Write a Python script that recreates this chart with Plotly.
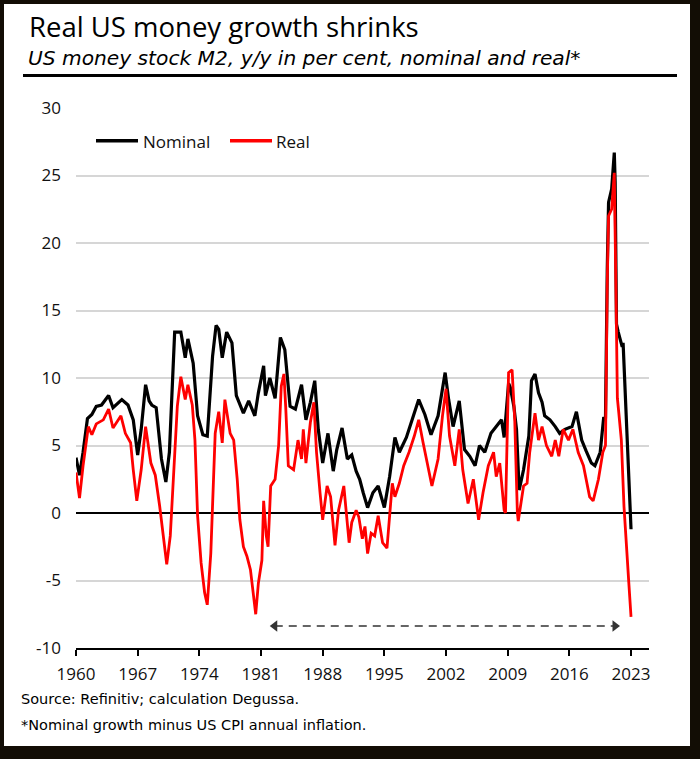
import plotly.graph_objects as go

# ---------------- data ----------------
nominal_years = [
    1960.0, 1960.4, 1960.8, 1961.3, 1961.8, 1962.3, 1962.9, 1963.7, 1964.2, 1964.7,
    1965.2, 1965.9, 1966.5, 1967.0, 1967.4, 1967.9, 1968.3, 1968.6, 1969.1, 1969.7,
    1970.2, 1970.6, 1971.0, 1971.2, 1971.9, 1972.4, 1972.7, 1973.3, 1973.8, 1974.4,
    1974.9, 1975.5, 1975.9, 1976.2, 1976.6, 1977.1, 1977.7, 1978.2, 1979.0, 1979.6,
    1980.3, 1980.7, 1981.3, 1981.5, 1982.0, 1982.6, 1983.2, 1983.7, 1984.3, 1984.9,
    1985.6, 1986.1, 1986.6, 1987.1, 1987.5, 1988.0, 1988.6, 1989.2, 1989.6, 1990.2,
    1990.8, 1991.3, 1991.8, 1992.2, 1992.6, 1993.1, 1993.7, 1994.3, 1995.0, 1995.6,
    1996.2, 1996.7, 1997.5, 1998.3, 1998.9, 1999.6, 2000.3, 2001.1, 2001.9, 2002.3,
    2002.8, 2003.5, 2004.1, 2004.7, 2005.3, 2005.8, 2006.4, 2007.1, 2007.7, 2008.3,
    2008.6, 2008.9, 2009.1, 2009.3, 2009.7, 2010.0, 2010.3, 2010.8, 2011.4, 2011.7,
    2012.1, 2012.5, 2012.9, 2013.2, 2013.8, 2014.4, 2014.9, 2015.5, 2016.3, 2016.8,
    2017.4, 2017.9, 2018.5, 2018.9, 2019.5, 2019.9, 2020.1, 2020.3, 2020.45, 2020.8,
    2021.1, 2021.2, 2021.35, 2021.55, 2022.0, 2022.1, 2022.3, 2022.5, 2022.75, 2023.0,
]
nominal_values = [
    4.1, 2.8, 4.5, 7.0, 7.3, 7.9, 8.0, 8.7, 7.8, 8.1,
    8.4, 8.0, 6.9, 4.3, 6.2, 9.5, 8.3, 8.0, 7.8, 4.0,
    2.3, 4.5, 10.5, 13.4, 13.4, 11.5, 12.9, 11.1, 7.2, 5.8,
    5.7, 11.6, 13.9, 13.6, 11.5, 13.4, 12.6, 8.7, 7.4, 8.3,
    7.2, 8.9, 10.9, 8.7, 10.0, 8.5, 13.0, 12.1, 7.9, 7.7,
    9.5, 6.9, 8.2, 9.8, 6.2, 3.7, 5.9, 3.1, 4.7, 6.3,
    4.0, 4.3, 3.1, 2.5, 1.5, 0.4, 1.5, 2.0, 0.4, 2.7,
    5.6, 4.5, 5.6, 7.2, 8.4, 7.3, 5.8, 7.2, 10.4, 8.4,
    6.4, 8.3, 4.7, 4.2, 3.5, 5.0, 4.5, 5.9, 6.4, 6.9,
    5.6, 8.5, 9.6, 9.3, 7.9, 6.2, 1.7, 3.2, 5.7, 9.8,
    10.3, 8.9, 8.2, 7.2, 6.9, 6.4, 5.9, 6.2, 6.4, 7.5,
    5.4, 4.6, 3.7, 3.5, 4.5, 7.1, 7.0, 18.0, 23.0, 24.0,
    26.7, 24.5, 14.0, 13.4, 12.3, 12.6, 9.5, 6.9, 2.8, -1.2,
]

real_years = [
    1960.0, 1960.4, 1960.8, 1961.4, 1961.8, 1962.3, 1963.1, 1963.7, 1964.2, 1965.1,
    1965.6, 1966.2, 1966.5, 1966.9, 1967.4, 1967.9, 1968.5, 1969.0, 1969.5, 1969.9,
    1970.3, 1970.7, 1971.1, 1971.5, 1971.9, 1972.4, 1972.7, 1973.2, 1973.5, 1973.8,
    1974.2, 1974.6, 1974.9, 1975.3, 1975.8, 1976.2, 1976.6, 1976.9, 1977.5, 1977.9,
    1978.3, 1978.6, 1979.0, 1979.4, 1979.8, 1980.2, 1980.4, 1980.7, 1981.1, 1981.3,
    1981.6, 1981.8, 1982.1, 1982.6, 1983.0, 1983.3, 1983.6, 1983.8, 1984.1, 1984.7,
    1985.2, 1985.6, 1985.8, 1986.1, 1986.6, 1987.0, 1987.3, 1987.7, 1988.0, 1988.5,
    1988.9, 1989.4, 1989.8, 1990.4, 1991.0, 1991.3, 1991.8, 1992.1, 1992.5, 1992.8,
    1993.1, 1993.5, 1993.9, 1994.3, 1994.8, 1995.3, 1995.6, 1995.9, 1996.2, 1996.7,
    1997.2, 1997.8, 1998.4, 1998.9, 1999.4, 1999.9, 2000.4, 2001.1, 2001.6, 2002.0,
    2002.4, 2003.0, 2003.5, 2003.9, 2004.5, 2005.1, 2005.7, 2006.2, 2006.8, 2007.4,
    2007.7, 2008.1, 2008.6, 2008.75, 2009.1, 2009.5, 2009.8, 2010.1, 2010.2, 2010.8,
    2011.2, 2011.5, 2012.1, 2012.5, 2012.9, 2013.4, 2014.0, 2014.4, 2014.8, 2015.3,
    2015.9, 2016.4, 2017.0, 2017.6, 2018.3, 2018.7, 2019.3, 2019.8, 2020.1, 2020.3,
    2020.45, 2020.8, 2021.1, 2021.3, 2021.45, 2021.6, 2021.9, 2022.2, 2022.5, 2022.75,
    2023.0,
]
real_values = [
    3.0, 1.1, 3.5, 6.4, 5.8, 6.6, 6.9, 7.7, 6.3, 7.2,
    5.9, 5.2, 3.2, 0.9, 3.2, 6.4, 3.7, 2.8, 0.5, -1.7,
    -3.8, -1.7, 3.2, 7.9, 10.1, 8.4, 9.5, 8.0, 5.4, -0.2,
    -3.7, -5.9, -6.8, -3.0, 5.9, 7.5, 5.2, 8.4, 5.9, 5.4,
    2.5, -0.5, -2.5, -3.2, -4.2, -6.2, -7.5, -5.2, -3.5, 0.9,
    -1.7, -2.5, 2.0, 2.5, 5.0, 9.4, 10.3, 7.9, 3.5, 3.2,
    5.4, 4.0, 6.2, 3.7, 6.7, 8.2, 4.5, 1.5, -0.5, 2.0,
    1.2, -2.4, 0.2, 2.0, -2.2, -0.7, 0.2, -0.3, -1.9, -1.0,
    -3.0, -1.5, -1.7, -0.2, -2.2, -2.6, 0.0, 2.2, 1.2, 2.2,
    3.5, 4.5, 5.7, 6.9, 5.2, 3.7, 2.0, 4.0, 7.2, 9.2,
    5.7, 3.5, 6.2, 3.2, 0.7, 2.5, -0.5, 1.5, 3.5, 4.5,
    2.7, 3.7, 0.2, 0.0, 10.4, 10.6, 6.9, 0.0, -0.6, 2.0,
    2.2, 4.5, 7.4, 5.4, 6.4, 5.0, 4.2, 5.4, 4.2, 6.2,
    5.4, 6.2, 4.5, 3.5, 1.2, 0.9, 2.5, 4.5, 5.0, 17.0,
    22.0, 22.5, 25.2, 16.0, 8.5, 7.5, 5.4, 0.5, -3.0, -5.2,
    -7.7,
]

x_ticks = [1960, 1967, 1974, 1981, 1988, 1995, 2002, 2009, 2016, 2023]
y_ticks = [-10, -5, 0, 5, 10, 15, 20, 25, 30]
arrow_years = [1982.56, 2021.18]
arrow_level = -8.37

title_text = "Real US money growth shrinks"
subtitle_text = "US money stock M2, y/y in per cent, nominal and real*"
source_text = "Source: Refinitiv; calculation Degussa."
note_text = "*Nominal growth minus US CPI annual inflation."

# ---------------- layout helpers ----------------
W, H = 700, 759
ML, MR, MT, MB = 76, 51, 108, 111
PW, PH = W - ML - MR, H - MT - MB
FONT = "Open Sans"
WIDE = "DejaVu Sans"


def pxx(x):
    return (x - ML) / PW


def pxy(y):
    return (H - MB - y) / PH


fig = go.Figure()
fig.add_trace(go.Scatter(x=nominal_years, y=nominal_values, mode="lines",
                         line=dict(color="#000000", width=3.2), name="Nominal"))
fig.add_trace(go.Scatter(x=real_years, y=real_values, mode="lines",
                         line=dict(color="#ff0000", width=2.8), name="Real"))
fig.add_trace(go.Scatter(x=arrow_years, y=[arrow_level] * 2, mode="lines+markers",
                         line=dict(color="#333333", width=1.6, dash="8px,6px"),
                         marker=dict(symbol=["triangle-left", "triangle-right"], size=10,
                                     color="#333333"),
                         name="period"))

shapes = []
# black frame
for x0, y0, x1, y1 in [(0, 0, 4, H), (0, 0, W, 4), (690, 0, W, H), (0, 746, W, H)]:
    shapes.append(dict(type="rect", xref="paper", yref="paper", x0=pxx(x0), x1=pxx(x1),
                       y0=pxy(y1), y1=pxy(y0), fillcolor="#120d05", line=dict(width=0),
                       layer="above"))
# underline below subtitle
shapes.append(dict(type="line", xref="paper", yref="paper", x0=pxx(23), x1=pxx(677),
                   y0=pxy(75.5), y1=pxy(75.5), line=dict(color="#000000", width=3)))
# legend lines
shapes.append(dict(type="line", xref="paper", yref="paper", x0=pxx(96), x1=pxx(138),
                   y0=pxy(140.7), y1=pxy(140.7), line=dict(color="#000000", width=3.5)))
shapes.append(dict(type="line", xref="paper", yref="paper", x0=pxx(230), x1=pxx(272),
                   y0=pxy(140.7), y1=pxy(140.7), line=dict(color="#ff0000", width=3.5)))

annotations = [
    dict(text=title_text, x=pxx(28), y=pxy(26.6), xanchor="left", yanchor="middle",
         borderpad=0, font=dict(family=FONT, size=27.5, color="#000000")),
    dict(text="<i>" + subtitle_text + "</i>", x=pxx(27), y=pxy(58.2), xanchor="left",
         yanchor="middle", borderpad=0, font=dict(family=WIDE, size=20.2, color="#000000")),
    dict(text=source_text, x=pxx(19), y=pxy(699), xanchor="left", yanchor="middle",
         font=dict(family=WIDE, size=14.5, color="#000000")),
    dict(text=note_text, x=pxx(19), y=pxy(725), xanchor="left", yanchor="middle",
         font=dict(family=WIDE, size=14.5, color="#000000")),
    dict(text="Nominal", x=pxx(141), y=pxy(141), xanchor="left", yanchor="middle",
         font=dict(family=FONT, size=17, color="#111111")),
    dict(text="Real", x=pxx(274), y=pxy(141), xanchor="left", yanchor="middle",
         font=dict(family=FONT, size=17, color="#111111")),
]
for a in annotations:
    a.update(xref="paper", yref="paper", showarrow=False)

fig.update_layout(
    width=W, height=H,
    margin=dict(l=ML, r=MR, t=MT, b=MB, pad=0),
    paper_bgcolor="#ffffff", plot_bgcolor="#ffffff",
    showlegend=False,
    shapes=shapes, annotations=annotations,
    font=dict(family=FONT, color="#111111"),
)
fig.update_xaxes(
    range=[1960, 1960 + PW / 8.81], tickvals=x_ticks, ticktext=[str(t) for t in x_ticks],
    showgrid=False, zeroline=False,
    showline=True, linecolor="#000000", linewidth=2,
    ticks="outside", ticklen=6, tickwidth=2, tickcolor="#000000",
    tickfont=dict(family=FONT, size=17, color="#111111"), ticklabelstandoff=4,
)
fig.update_yaxes(
    range=[-10, 30], tickvals=y_ticks, ticktext=[str(t) for t in y_ticks],
    showgrid=True, gridcolor="#d6d6d6", gridwidth=1.6,
    zeroline=True, zerolinecolor="#000000", zerolinewidth=2,
    showline=False, ticks="",
    tickfont=dict(family=FONT, size=17, color="#111111"), ticklabelstandoff=14,
)

fig.write_html("out.html")
